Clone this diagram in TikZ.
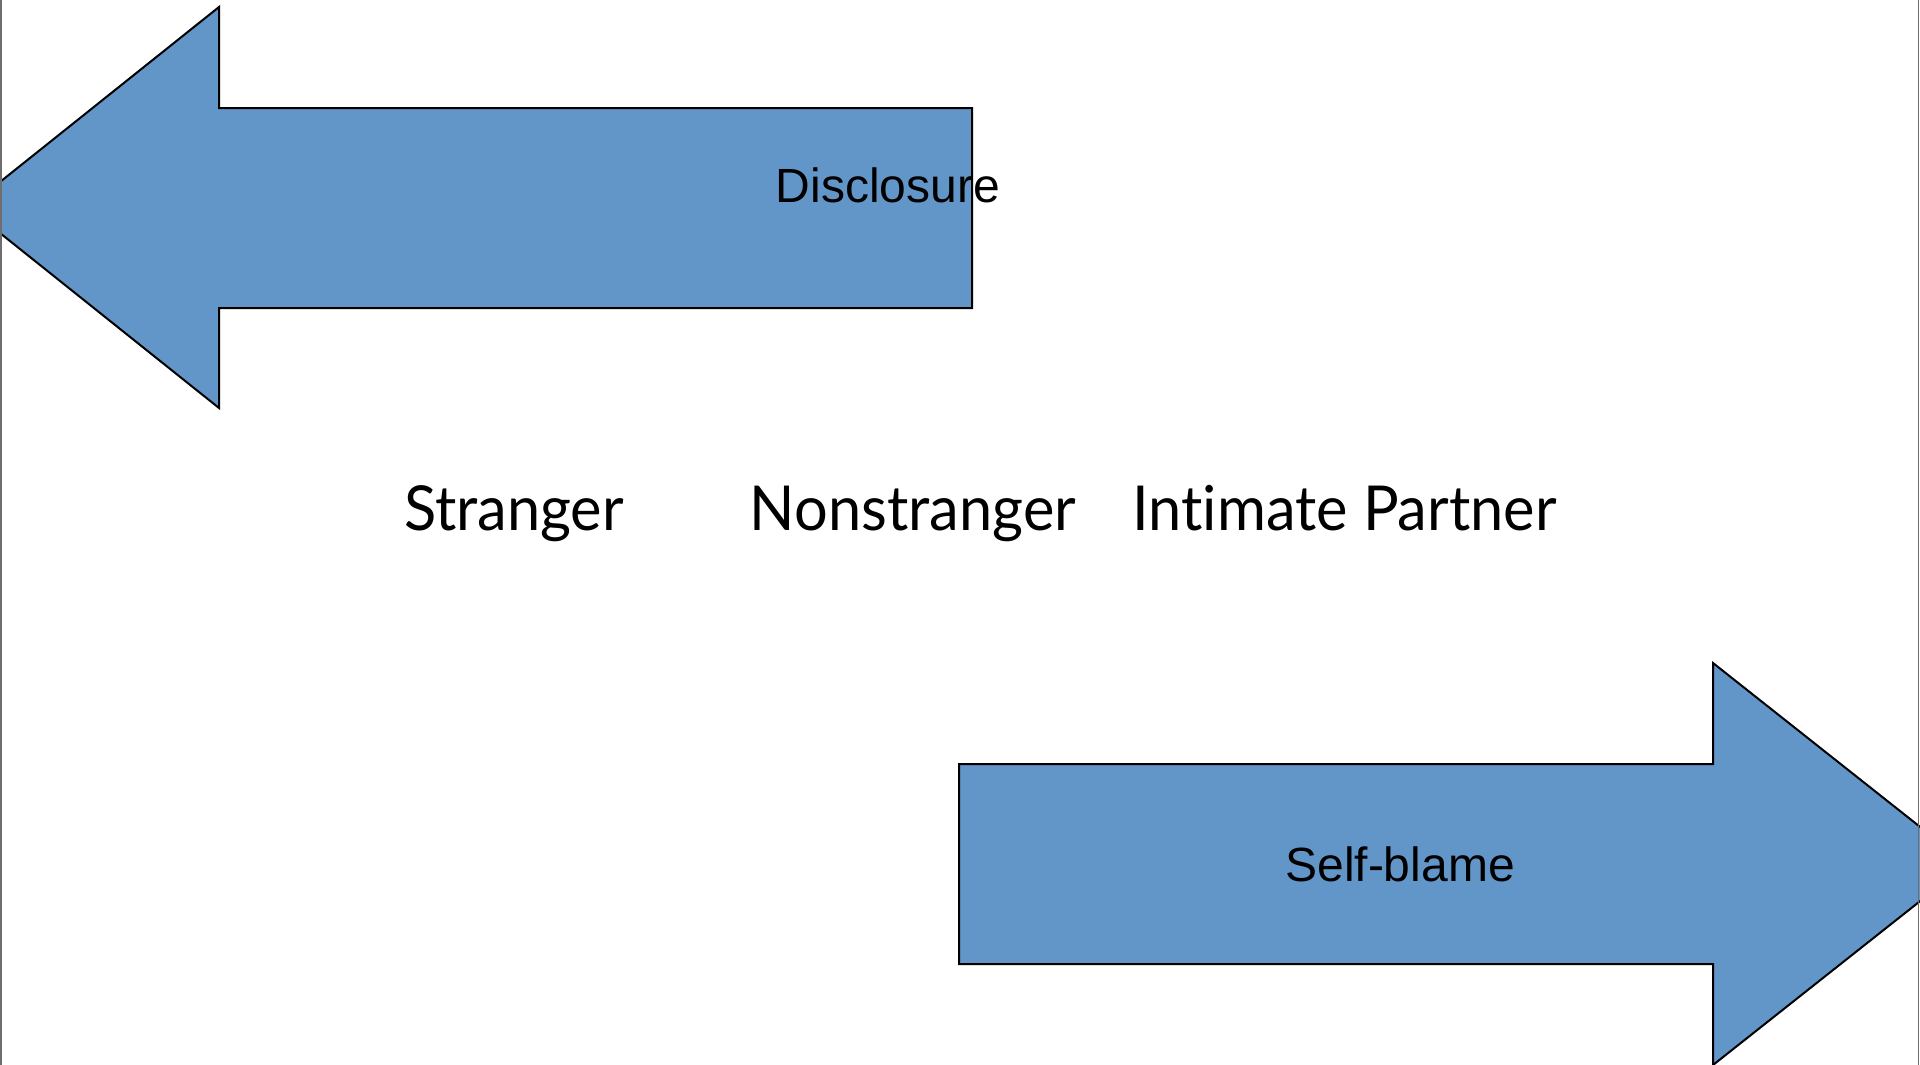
\documentclass[tikz,border=0pt]{standalone}
\usepackage{fontspec}
\setmainfont{Liberation Sans}
\newfontfamily\gillfont[Ligatures=NoCommon, FakeStretch=0.96]{Lato}
\definecolor{arrowblue}{RGB}{98,150,200}
\definecolor{edgegray}{RGB}{110,110,110}
\tikzset{
  bigarrow/.style={fill=arrowblue, draw=black, line width=2pt, line join=miter},
  arrowlabel/.style={font=\fontsize{48}{56}\selectfont, anchor=base, inner sep=0pt},
  rellabel/.style={font=\gillfont\fontsize{62}{74}\selectfont, anchor=base, inner sep=0pt},
}
\begin{document}
\begin{tikzpicture}[x=1pt,y=-1pt]
\useasboundingbox (0,0) rectangle (1920,1065);
\fill[white] (0,0) rectangle (1920,1065);
\begin{scope}
\clip (0,0) rectangle (1920,1065);
\draw[bigarrow] (972,108) -- (219,108) -- (219,7) -- (-32,207.5) -- (219,408) -- (219,308) -- (972,308) -- cycle;
\draw[bigarrow] (959,764) -- (1713,764) -- (1713,663) -- (1967,864) -- (1713,1065) -- (1713,964) -- (959,964) -- cycle;
\end{scope}
\node[arrowlabel] (disc) at (888,202) {Disclosure};
\node[arrowlabel] (blame) at (1400,881) {Self-blame};
\node[rellabel] (stranger) at (514,530) {Stranger};
\node[rellabel] (nonstranger) at (913,530) {Nonstranger};
\node[rellabel] (intimate) at (1344.5,530) {Intimate Partner};
\draw[edgegray, line width=1.5pt] (0.75,0) -- (0.75,1065);
\draw[edgegray, line width=1.5pt] (1918.5,0) -- (1918.5,1065);
\end{tikzpicture}
\end{document}
